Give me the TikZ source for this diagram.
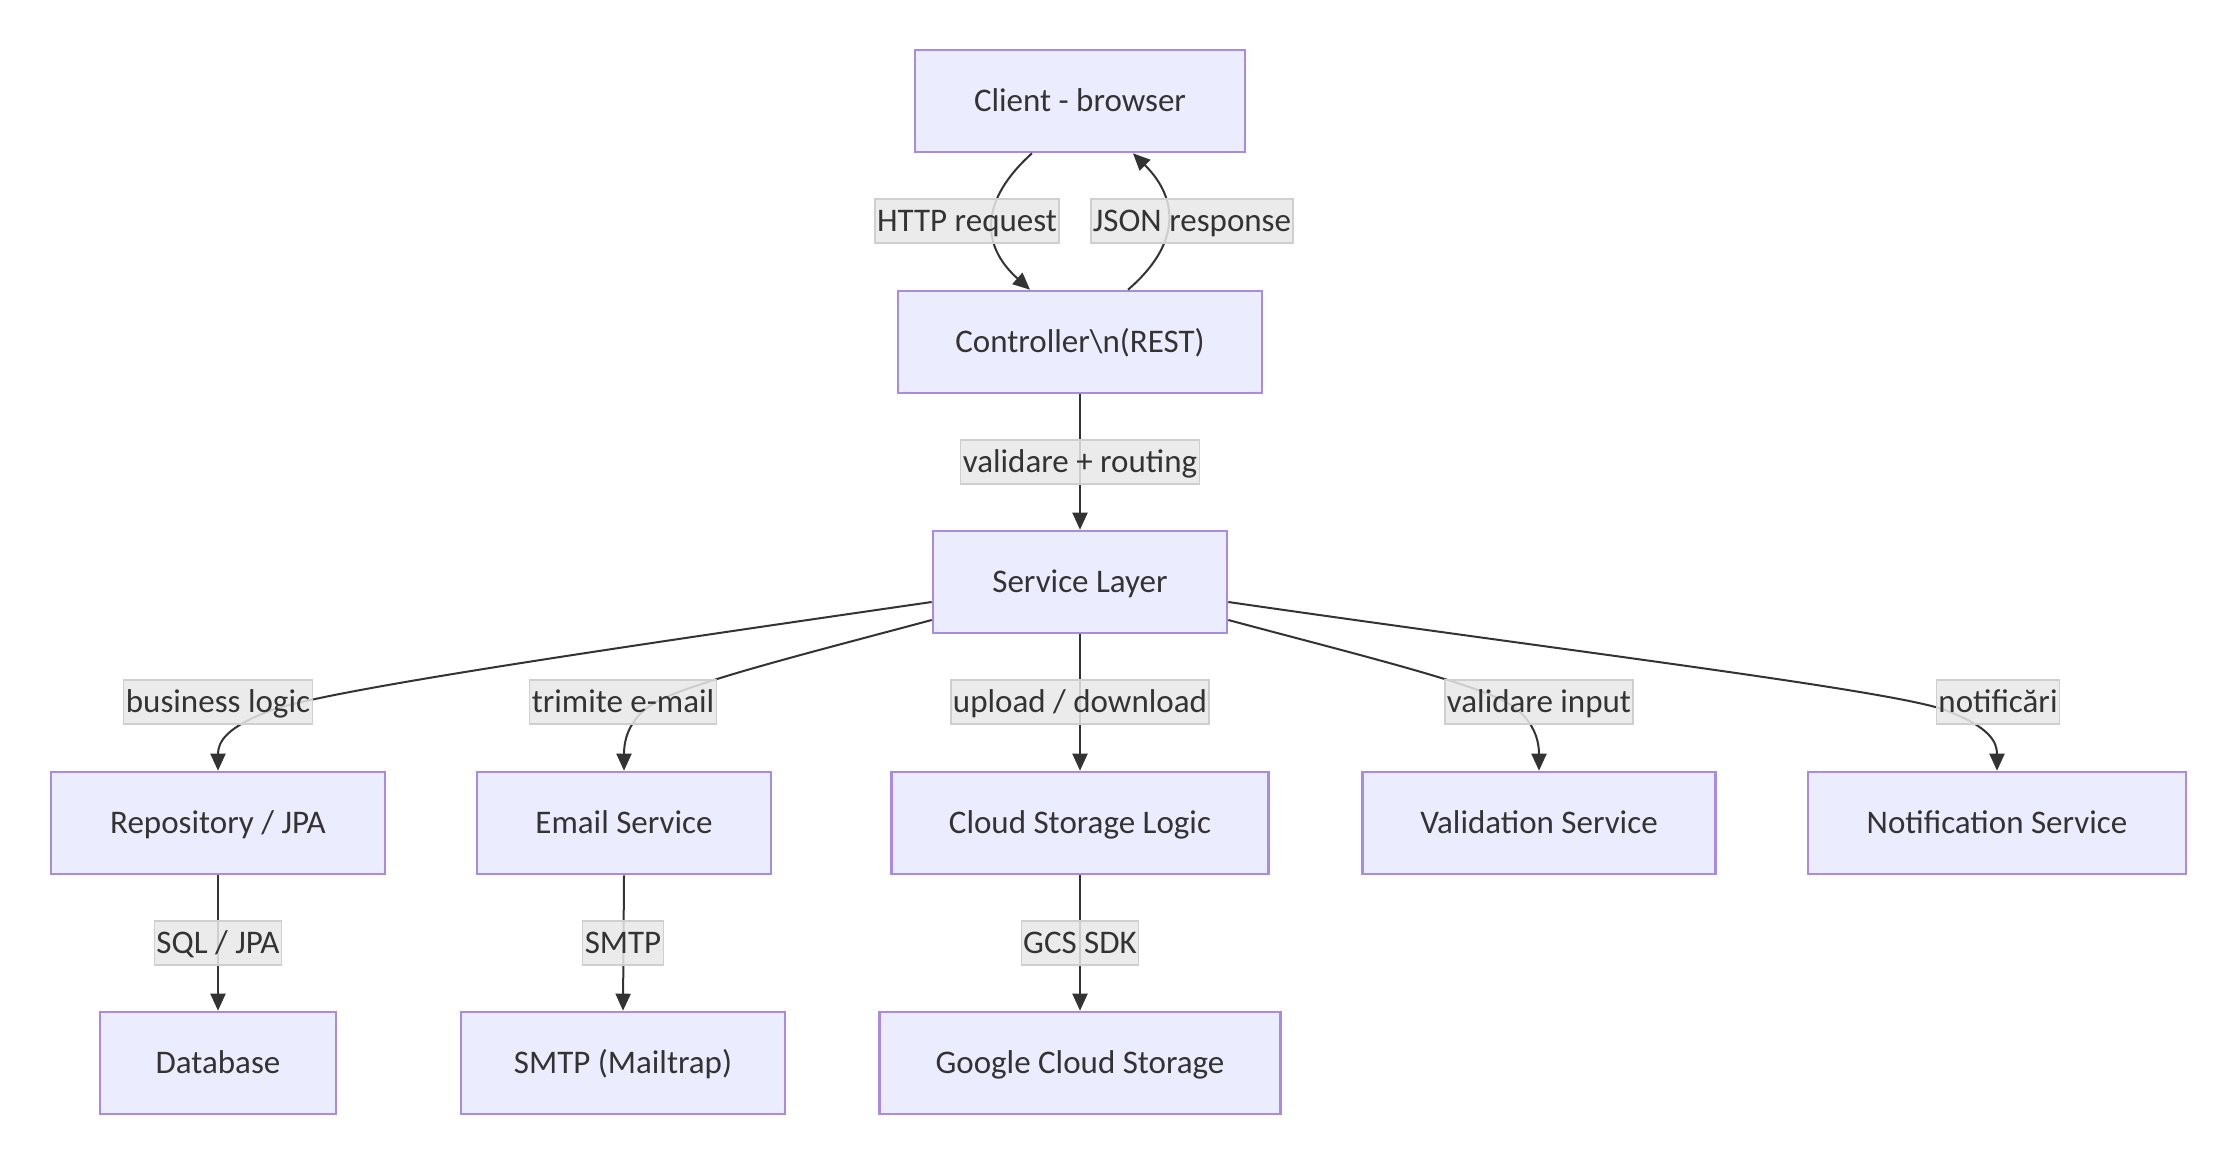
\documentclass[tikz,border=0pt]{standalone}
\usepackage{fontspec}
\setmainfont{Carlito}
\usetikzlibrary{arrows.meta}
\definecolor{boxfill}{HTML}{ECECFF}
\definecolor{boxline}{HTML}{A98BE2}
\definecolor{edgecol}{HTML}{333333}
\definecolor{lblfill}{HTML}{E8E8E8}
\definecolor{lblline}{HTML}{CFCFCF}
\definecolor{txt}{HTML}{333333}
\tikzset{
  box/.style={draw=boxline, fill=boxfill, line width=2.6pt, minimum height=102pt,
    inner sep=0pt, text=txt, font=\fontsize{33}{40}\selectfont,
    text height=25pt, text depth=4pt},
  lbl/.style={fill=lblfill, fill opacity=0.85, text opacity=1, draw=lblline, line width=1.2pt,
    minimum height=44pt, inner xsep=2pt, inner ysep=0pt, text=txt,
    font=\fontsize{33}{40}\selectfont, text height=25pt, text depth=4pt},
  edge/.style={draw=edgecol, line width=2pt, -{Triangle[length=17pt,width=15pt]}},
}
\begin{document}
\begin{tikzpicture}[x=1pt,y=-1pt]
\useasboundingbox (0,0) rectangle (2239,1166);
\fill[white] (0,0) rectangle (2239,1166);
% nodes
\node[box, minimum width=330pt] (client) at (1080,101) {Client - browser};
\node[box, minimum width=364pt] (ctrl) at (1080,342) {Controller\textbackslash n(REST)};
\node[box, minimum width=294pt] (svc) at (1080,582) {Service Layer};
\node[box, minimum width=334pt] (repo) at (218,823) {Repository / JPA};
\node[box, minimum width=294pt] (email) at (624,823) {Email Service};
\node[box, minimum width=377pt] (cloud) at (1080,823) {Cloud Storage Logic};
\node[box, minimum width=353pt] (valid) at (1539,823) {Validation Service};
\node[box, minimum width=378pt] (notif) at (1997,823) {Notification Service};
\node[box, minimum width=236pt] (db) at (218,1063) {Database};
\node[box, minimum width=324pt] (smtp) at (623,1063) {SMTP (Mailtrap)};
\node[box, minimum width=401pt] (gcs) at (1080,1063) {Google Cloud Storage};
% edges
\draw[edge] ([xshift=-48pt]client.south) .. controls (980,200) and (980,245) .. ([xshift=-50pt]ctrl.north);
\draw[edge] ([xshift=48pt]ctrl.north) .. controls (1180,245) and (1180,200) .. ([xshift=53pt]client.south);
\draw[edge] (ctrl.south) -- (svc.north);
\draw[edge] ([yshift=-20pt]svc.west) .. controls (600,650) and (330,690) .. (272,710) .. controls (226,727) and (218,742) .. (repo.north);
\draw[edge] ([yshift=-38pt]svc.west) .. controls (820,650) and (700,680) .. (660,700) .. controls (630,715) and (624,738) .. (email.north);
\draw[edge] (svc.south) -- (cloud.north);
\draw[edge] ([yshift=-38pt]svc.east) .. controls (1340,650) and (1462,680) .. (1502,700) .. controls (1532,715) and (1539,738) .. (valid.north);
\draw[edge] ([yshift=-20pt]svc.east) .. controls (1560,650) and (1890,690) .. (1945,710) .. controls (1990,727) and (1997,742) .. (notif.north);
\draw[edge] (repo.south) -- (db.north);
\draw[edge] (email.south) -- (smtp.north);
\draw[edge] (cloud.south) -- (gcs.north);
% labels
\node[lbl] (lhttp) at (967,221) {HTTP request};
\node[lbl] (ljson) at (1192,221) {JSON response};
\node[lbl] (lroute) at (1080,462) {validare + routing};
\node[lbl] (lbus) at (218,702) {business logic};
\node[lbl] (lmail) at (623,702) {trimite e-mail};
\node[lbl] (lup) at (1080,702) {upload / download};
\node[lbl] (lval) at (1539,702) {validare input};
\node[lbl] (lnot) at (1998,702) {notificări};
\node[lbl] (lsql) at (218,943) {SQL / JPA};
\node[lbl] (lsmtp) at (623,943) {SMTP};
\node[lbl] (lgcs) at (1080,943) {GCS SDK};
\end{tikzpicture}
\end{document}
